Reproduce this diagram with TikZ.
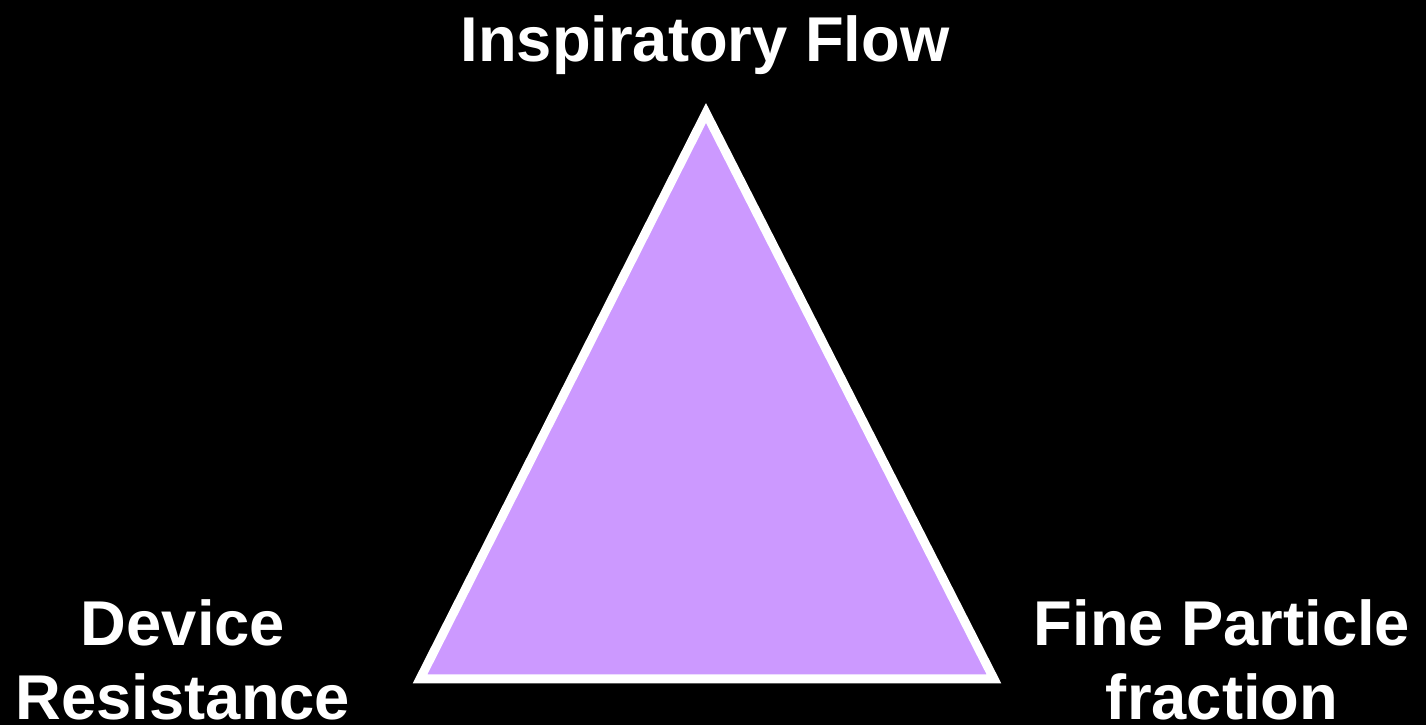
\documentclass[tikz,border=0pt]{standalone}
\usepackage{fontspec}
\setmainfont{Liberation Sans}
\definecolor{figL}{RGB}{204,153,255}
\tikzset{lbl/.style={text=white,font=\bfseries\fontsize{18}{21.3}\selectfont,align=center,anchor=base,inner sep=0pt}}

\begin{document}
\begin{tikzpicture}[x=0.01cm,y=-0.01cm]
\fill[black] (0,0) rectangle (1426,725);
\useasboundingbox (0,0) rectangle (1426,725);
\coordinate (top) at (706,113);
\coordinate (bl) at (420,679);
\coordinate (br) at (994,679);
\filldraw[fill=figL,draw=white,line width=0.09cm] (top)--(bl)--(br)--cycle;
\node[lbl] (flow) at (705,62) {Inspiratory Flow};
\node[lbl] (res) at (183,720) {Device\\Resistance};
\node[lbl] (fpf) at (1222,720) {Fine Particle\\fraction};
\end{tikzpicture}
\end{document}
